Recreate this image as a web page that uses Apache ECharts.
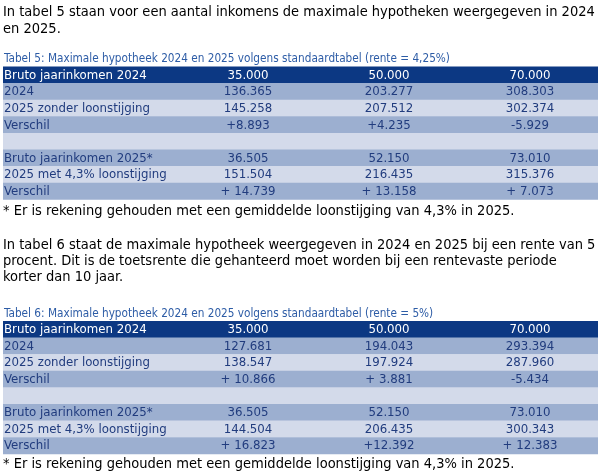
<!DOCTYPE html>
<html>
<head>
<meta charset="utf-8">
<script src="https://cdn.jsdelivr.net/npm/echarts@6/dist/echarts.min.js"></script>
<style>html,body{margin:0;padding:0;background:#fff}#c{width:605px;height:472px}</style>
</head>
<body>
<div id="c"></div>
<script>
// ---- data ----
const intro5 = ["In tabel 5 staan voor een aantal inkomens de maximale hypotheken weergegeven in 2024", "en 2025."];
const caption5 = "Tabel 5: Maximale hypotheek 2024 en 2025 volgens standaardtabel (rente = 4,25%)";
const intro6 = ["In tabel 6 staat de maximale hypotheek weergegeven in 2024 en 2025 bij een rente van 5", "procent. Dit is de toetsrente die gehanteerd moet worden bij een rentevaste periode", "korter dan 10 jaar."];
const caption6 = "Tabel 6: Maximale hypotheek 2024 en 2025 volgens standaardtabel (rente = 5%)";
const footnote = "* Er is rekening gehouden met een gemiddelde loonstijging van 4,3% in 2025.";
const rowLabels = ["Bruto jaarinkomen 2024", "2024", "2025 zonder loonstijging", "Verschil", "", "Bruto jaarinkomen 2025*", "2025 met 4,3% loonstijging", "Verschil"];
const t5col35 = ["35.000", "136.365", "145.258", "+8.893", "", "36.505", "151.504", "+ 14.739"];
const t5col50 = ["50.000", "203.277", "207.512", "+4.235", "", "52.150", "216.435", "+ 13.158"];
const t5col70 = ["70.000", "308.303", "302.374", "-5.929", "", "73.010", "315.376", "+ 7.073"];
const t6col35 = ["35.000", "127.681", "138.547", "+ 10.866", "", "36.505", "144.504", "+ 16.823"];
const t6col50 = ["50.000", "194.043", "197.924", "+ 3.881", "", "52.150", "206.435", "+12.392"];
const t6col70 = ["70.000", "293.394", "287.960", "-5.434", "", "73.010", "300.343", "+ 12.383"];

// ---- layout/style ----
const FONT = "DejaVu Sans Condensed";
const HEAD = "#0c3883", MID = "#9cafd0", LIGHT = "#d3daea", TXT = "#213c7e", CAP = "#2d5ca6";
const tableLeft = 3, tableRight = 598, rowH = 16.6;
const colCenters = [248, 389, 530];
const BODY = 14.5, TBL = 13.1, CAPF = 11.7;

const chart = echarts.init(document.getElementById('c'), null, {renderer: 'canvas'});
const els = [];
function text(str, x, y, opts) {
  els.push({type: 'text', x: x, y: y, style: Object.assign({text: str, fontFamily: FONT, fontSize: BODY, fill: '#000', verticalAlign: 'middle', align: 'left'}, opts || {}), silent: true});
}
function paragraph(lines, y0, lh) { lines.forEach((l, i) => text(l, 3, y0 + i * lh)); }
function table(top, cols) {
  rowLabels.forEach((lab, r) => {
    const y = top + r * rowH;
    const fill = r === 0 ? HEAD : (r % 2 === 1 ? MID : LIGHT);
    els.push({type: 'rect', shape: {x: tableLeft, y: y, width: tableRight - tableLeft, height: rowH + 0.4}, style: {fill: fill}, silent: true});
    const tc = r === 0 ? '#ffffff' : TXT;
    text(lab, 4, y + rowH / 2 + 0.5, {fill: tc, fontSize: TBL});
    cols.forEach((col, c) => text(col[r], colCenters[c], y + rowH / 2 + 0.5, {fill: tc, fontSize: TBL, align: 'center'}));
  });
}
paragraph(intro5, 12, 17);
text(caption5, 4, 59, {fontSize: CAPF, fill: CAP});
table(66.5, [t5col35, t5col50, t5col70]);
text(footnote, 3, 211);
paragraph(intro6, 245, 16);
text(caption6, 4, 314, {fontSize: CAPF, fill: CAP});
table(321, [t6col35, t6col50, t6col70]);
text(footnote, 3, 464);

chart.setOption({animation: false, graphic: {elements: els}});
</script>
</body>
</html>
